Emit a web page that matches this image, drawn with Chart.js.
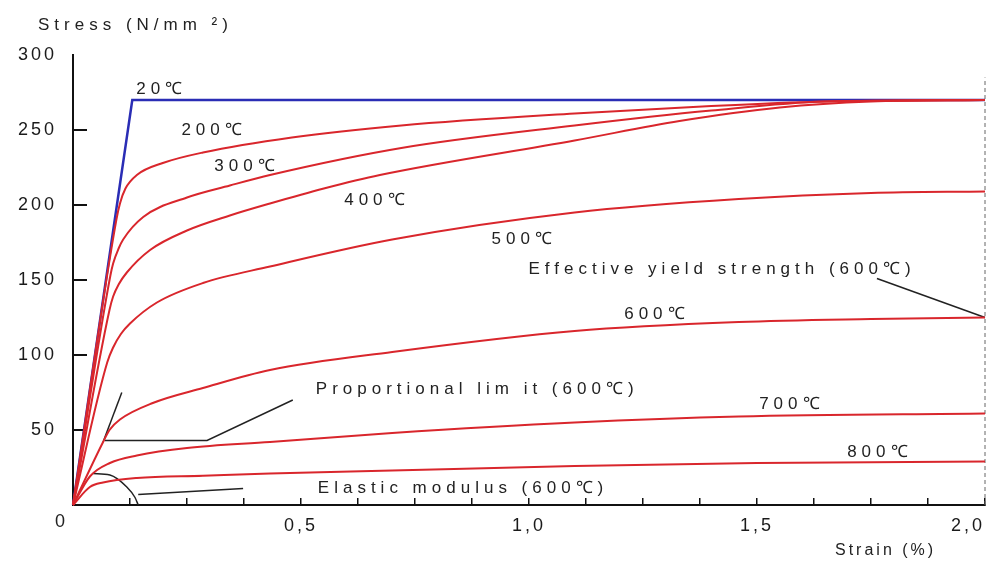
<!DOCTYPE html>
<html>
<head>
<meta charset="utf-8">
<script src="https://cdn.jsdelivr.net/npm/chart.js@4"></script>
<style>
html, body { margin: 0; padding: 0; background: #fff; }
#wrap { width: 995px; height: 567px; }
</style>
</head>
<body>
<div id="wrap"><canvas id="canvas"></canvas></div>
<script>
// strain (%) , stress (N/mm2) pairs
var curve20 = [[0, 0], [0.13, 270], [2.0, 270]];
var curve200 = [[0, 0], [0.095, 190], [0.103, 201], [0.115, 211], [0.14, 220], [0.197, 228], [0.285, 235], [0.48, 245], [0.72, 253], [1.1, 261], [1.4, 266], [1.65, 269], [2.0, 270]];
var curve300 = [[0, 0], [0.082, 153], [0.088, 161], [0.1, 171], [0.11, 177], [0.154, 192], [0.25, 205], [0.344, 213], [0.432, 220], [0.72, 238], [1.1, 253], [1.4, 263], [1.65, 269], [2.0, 270]];
var curve400 = [[0, 0], [0.08, 130], [0.088, 139], [0.1, 147], [0.118, 155], [0.169, 170], [0.25, 183], [0.344, 193], [0.432, 201], [0.55, 211], [0.673, 220], [1.1, 243], [1.33, 256], [1.55, 265], [1.75, 269], [2.0, 270]];
var curve500 = [[0, 0], [0.075, 95], [0.088, 105], [0.105, 114], [0.125, 121], [0.184, 135], [0.285, 148], [0.432, 159], [0.7, 177], [1.1, 195], [1.46, 204], [1.75, 208], [2.0, 209]];
var curve600 = [[0, 0], [0.066, 42], [0.08, 50], [0.103, 57], [0.175, 68], [0.285, 78], [0.432, 90], [0.7, 102], [1.1, 116], [1.46, 122], [1.75, 124], [2.0, 125]];
var curve700 = [[0, 0], [0.037, 19], [0.081, 28], [0.14, 33], [0.25, 38], [0.432, 42], [0.7, 48], [1.1, 55], [1.46, 59], [2.0, 61]];
var curve800 = [[0, 0], [0.037, 12], [0.066, 15], [0.14, 18], [0.285, 19.5], [0.432, 21], [0.7, 23], [1.1, 26], [1.5, 28], [2.0, 29]];

// pointer lines and marks
var propLimitLine = [[0.107, 75], [0.066, 42]];
var propLimitPointer = [[0.07, 43], [0.294, 43], [0.482, 70]];
var modulusArc = [[0.044, 21], [0.081, 20], [0.118, 12], [0.136, 5], [0.143, 0]];
var modulusPointer = [[0.143, 7], [0.373, 11]];
var yieldPointer = [[1.763, 151], [2.0, 125]];
var limitLine = [[2.0, 0], [2.0, 285]];

// text labels: text, strain, stress
var noteLabels = [
  ['20℃', 0.19, 277],
  ['200℃', 0.305, 250],
  ['300℃', 0.377, 226],
  ['400℃', 0.662, 203],
  ['500℃', 0.985, 177],
  ['Effective yield strength (600℃)', 1.419, 157],
  ['600℃', 1.276, 127],
  ['Proportional lim it (600℃)', 0.882, 77],
  ['700℃', 1.572, 67],
  ['800℃', 1.765, 35],
  ['Elastic modulus (600℃)', 0.851, 11]
];

var xLabels = [0.5, 1.0, 1.5, 2.0];

function pts(arr) {
  return arr.map(function(p) { return {x: p[0], y: p[1]}; });
}

function redLine(arr) {
  return { data: pts(arr), borderColor: '#d9262c', borderWidth: 2, cubicInterpolationMode: 'monotone' };
}

function blackLine(arr) {
  return { data: pts(arr), borderColor: '#222', borderWidth: 1.5, tension: 0 };
}

var datasets = [
  redLine(curve200), redLine(curve300), redLine(curve400), redLine(curve500),
  redLine(curve600), redLine(curve700), redLine(curve800),
  { data: pts(curve20), borderColor: '#2a2db5', borderWidth: 2.5, tension: 0 },
  blackLine(propLimitLine), blackLine(propLimitPointer), blackLine(modulusPointer), blackLine(yieldPointer),
  { data: pts(modulusArc), borderColor: '#222', borderWidth: 1.5, cubicInterpolationMode: 'monotone' },
  { data: pts(limitLine), borderColor: '#666', borderWidth: 1, borderDash: [4, 3], tension: 0 }
];
datasets.forEach(function(d) {
  d.showLine = true;
  d.pointRadius = 0;
  d.fill = false;
  d.clip = 6;
});

var notes = {
  id: 'notes',
  beforeDraw: function(chart) {
    chart.ctx.letterSpacing = '3px'; // wide tick labels like the scan
  },
  afterDraw: function(chart) {
    var ctx = chart.ctx;
    var xs = chart.scales.x, ys = chart.scales.y;
    ctx.save();
    ctx.fillStyle = '#222';
    ctx.font = '17px "Liberation Sans", Arial, sans-serif';
    ctx.letterSpacing = '5px';
    ctx.textAlign = 'center';
    ctx.textBaseline = 'middle';
    noteLabels.forEach(function(n) {
      ctx.fillText(n[0], xs.getPixelForValue(n[1]) + 2, ys.getPixelForValue(n[2]));
    });
    ctx.textAlign = 'left';
    ctx.fillText('Stress (N/mm ²)', 38, 25);
    ctx.font = '16px "Liberation Sans", Arial, sans-serif';
    ctx.letterSpacing = '3px';
    ctx.fillText('Strain (%)', 835, 551);
    ctx.font = '18px "Liberation Sans", Arial, sans-serif';
    ctx.textAlign = 'center';
    ctx.letterSpacing = '0px';
    ctx.fillText('0', 60, 522);
    ctx.restore();
  }
};

var config = {
  type: 'scatter',
  data: { datasets: datasets },
  options: {
    responsive: true,
    maintainAspectRatio: false,
    animation: false,
    layout: { padding: { top: 55, right: 10, left: 0, bottom: 0 } },
    plugins: { legend: { display: false }, tooltip: { enabled: false } },
    scales: {
      x: {
        type: 'linear', min: 0, max: 2,
        afterFit: function(s) { s.height = 62; s.paddingRight = 0; s.paddingLeft = 0; },
        border: { color: '#111', width: 2 },
        grid: { drawOnChartArea: false, tickLength: -7, lineWidth: 1.5, color: '#111' },
        ticks: {
          stepSize: 0.125, autoSkip: false, maxRotation: 0, padding: 17, align: 'inner',
          color: '#1a1a1a', font: { family: 'Liberation Sans', size: 18 },
          callback: function(v) {
            var hit = xLabels.some(function(l) { return Math.abs(l - v) < 1e-6; });
            return hit ? v.toFixed(1).replace('.', ',') : '';
          }
        }
      },
      y: {
        min: 0, max: 300,
        afterFit: function(s) { s.width = 73; },
        border: { color: '#111', width: 2 },
        grid: {
          drawOnChartArea: false, tickLength: -14, lineWidth: 2,
          color: function(c) { return (c.tick && c.tick.value > 0 && c.tick.value < 300) ? '#111' : 'rgba(0,0,0,0)'; }
        },
        ticks: {
          stepSize: 50, padding: 30, color: '#1a1a1a', font: { family: 'Liberation Sans', size: 18 },
          callback: function(v) { return v == 0 ? '' : v; }
        }
      }
    }
  },
  plugins: [notes]
};

var ctx = document.getElementById('canvas');
window.myChart = new Chart(ctx, config);
</script>
</body>
</html>
